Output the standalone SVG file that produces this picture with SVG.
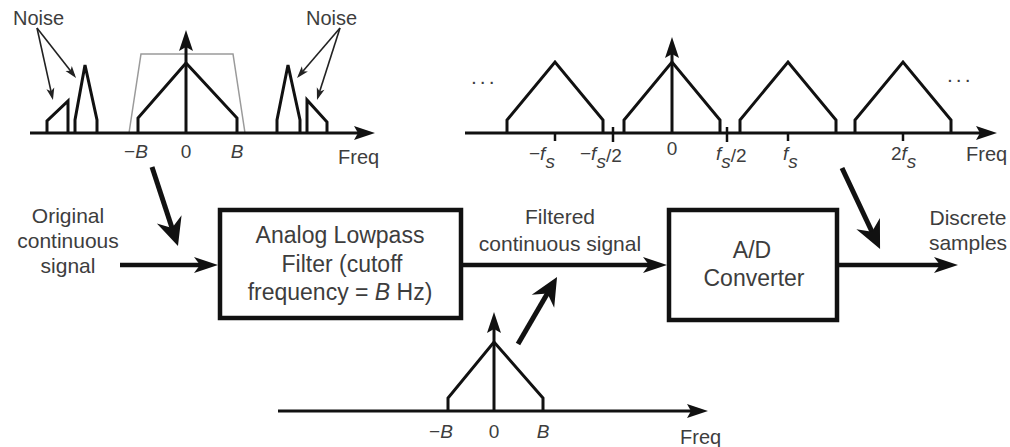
<svg xmlns="http://www.w3.org/2000/svg" width="1010" height="447" viewBox="0 0 1010 447">
<style>
text{font-family:"Liberation Sans",Arial,sans-serif;fill:#3d3d3d}
.lbl{font-size:21px;text-anchor:middle}
.box-t{font-size:23px;text-anchor:middle}
.ax{font-size:19px;text-anchor:middle}
.fl{font-size:19px}
.fq{font-size:20px}
.it{font-style:italic}
.box{fill:#fff;stroke:#111;stroke-width:4.5}
.axis{stroke:#111;stroke-width:3;fill:none}
.spec{stroke:#111;stroke-width:3;fill:none;stroke-linejoin:miter}
.tick{stroke:#111;stroke-width:2.5}
.sig{stroke:#111;stroke-width:4.5;fill:none}
.big{stroke:#111;stroke-width:5;fill:none}
.thin{stroke:#222;stroke-width:1.6;fill:none}
</style>
<defs>
<marker id="ah" markerUnits="userSpaceOnUse" markerWidth="26" markerHeight="18" refX="10" refY="8" orient="auto" overflow="visible"><path d="M0,0 L24,8 L0,16 L6,8 z" fill="#111"/></marker>
<marker id="ahd" markerUnits="userSpaceOnUse" markerWidth="30" markerHeight="28" refX="14" refY="13" orient="auto" overflow="visible"><path d="M0,0 L28,13 L0,26 L9,13 z" fill="#111"/></marker>
<marker id="ahs" markerUnits="userSpaceOnUse" markerWidth="14" markerHeight="10" refX="9" refY="4" orient="auto" overflow="visible"><path d="M0,0 L12,4 L0,8 L3,4 z" fill="#222"/></marker>
<marker id="aha" markerUnits="userSpaceOnUse" markerWidth="24" markerHeight="16" refX="8" refY="7" orient="auto" overflow="visible"><path d="M0,0 L21,7 L0,14 L4,7 z" fill="#111"/></marker>
</defs>

<!-- Input spectrum (top left) -->
<g id="spectrum-input">
<path d="M129,133 L141,54 H233 L245,133" fill="none" stroke="#9a9a9a" stroke-width="1.5"/>
<line class="axis" x1="30" y1="133" x2="362" y2="133" marker-end="url(#aha)"/>
<line class="axis" x1="186" y1="133" x2="186" y2="43" marker-end="url(#aha)"/>
<path class="spec" d="M138,133 V118 L186,63 L237,118 V133"/>
<path class="spec" d="M47,133 V121 L68,101 V133"/>
<path class="spec" d="M75,133 V120 L85,65 L97,120 V133"/>
<path class="spec" d="M277,133 V120 L288,65 L300,120 V133"/>
<path class="spec" d="M307,133 V100 L327,122 V133"/>
<text x="13" y="25" style="font-size:20px">Noise</text>
<text x="306" y="25" style="font-size:20px">Noise</text>
<line class="thin" x1="37" y1="28" x2="52.3" y2="97.1" marker-end="url(#ahs)"/>
<line class="thin" x1="37" y1="28" x2="74.2" y2="75.6" marker-end="url(#ahs)"/>
<line class="thin" x1="340" y1="28" x2="299" y2="75.7" marker-end="url(#ahs)"/>
<line class="thin" x1="340" y1="28" x2="317.9" y2="97.1" marker-end="url(#ahs)"/>
<text class="ax" x="136" y="158">−<tspan class="it">B</tspan></text>
<text class="ax" x="186" y="158">0</text>
<text class="ax it" x="237" y="158">B</text>
<text class="fq" x="338" y="164">Freq</text>
</g>

<!-- Sampled spectrum (top right) -->
<g id="spectrum-sampled">
<line class="axis" x1="465" y1="133" x2="984" y2="133" marker-end="url(#aha)"/>
<line class="axis" x1="672" y1="133" x2="672" y2="50" marker-end="url(#aha)"/>
<path class="spec" d="M507,133 V120 L555,62 L603,120 V133"/>
<path class="spec" d="M624,133 V120 L672,62 L720,120 V133"/>
<path class="spec" d="M740,133 V120 L788,62 L836,120 V133"/>
<path class="spec" d="M855,133 V120 L903,62 L951,120 V133"/>
<line class="tick" x1="555" y1="133" x2="555" y2="141"/>
<line class="tick" x1="613" y1="127" x2="613" y2="142"/>
<line class="tick" x1="727" y1="127" x2="727" y2="142"/>
<line class="tick" x1="788" y1="133" x2="788" y2="141"/>
<line class="tick" x1="903" y1="133" x2="903" y2="141"/>
<text x="471" y="84" style="font-size:21px;letter-spacing:3px">...</text>
<text x="947" y="82" style="font-size:21px;letter-spacing:3px">...</text>
<text class="fl" x="529" y="160">−<tspan class="it">f</tspan><tspan class="it" dy="8">s</tspan></text>
<text class="fl" x="580" y="160">−<tspan class="it">f</tspan><tspan class="it" dy="8">s</tspan><tspan dy="-6">/2</tspan></text>
<text class="ax" x="672" y="155">0</text>
<text class="fl" x="716" y="160"><tspan class="it">f</tspan><tspan class="it" dy="8">s</tspan><tspan dy="-6">/2</tspan></text>
<text class="fl" x="783" y="160"><tspan class="it">f</tspan><tspan class="it" dy="8">s</tspan></text>
<text class="fl" x="891" y="160">2<tspan class="it">f</tspan><tspan class="it" dy="8">s</tspan></text>
<text class="fq" x="966" y="161">Freq</text>
</g>

<!-- Filtered spectrum (bottom) -->
<g id="spectrum-filtered">
<line class="axis" x1="278" y1="411" x2="695" y2="411" marker-end="url(#aha)"/>
<line class="axis" x1="494" y1="411" x2="494" y2="325" marker-end="url(#aha)"/>
<path class="spec" d="M448,411 V398 L494,342 L543,398 V411"/>
<text class="ax" x="441" y="438">−<tspan class="it">B</tspan></text>
<text class="ax" x="494" y="438">0</text>
<text class="ax it" x="543" y="438">B</text>
<text class="fq" x="680" y="444">Freq</text>
</g>

<!-- Signal labels -->
<g id="input-label">
<text class="lbl" x="68" y="223">Original</text>
<text class="lbl" x="68" y="248">continuous</text>
<text class="lbl" x="68" y="273">signal</text>
</g>
<g id="filtered-label">
<text class="lbl" x="560" y="224">Filtered</text>
<text class="lbl" x="560" y="251">continuous signal</text>
</g>
<g id="output-label">
<text class="lbl" x="968" y="225">Discrete</text>
<text class="lbl" x="968" y="250">samples</text>
</g>

<!-- Nodes -->
<g id="filter">
<rect class="box" x="220" y="210" width="241" height="108"/>
<text class="box-t" x="340" y="243">Analog Lowpass</text>
<text class="box-t" x="342" y="272">Filter (cutoff</text>
<text class="box-t" x="340" y="300">frequency = <tspan class="it">B</tspan> Hz)</text>
</g>
<g id="adc">
<rect class="box" x="669" y="210" width="168" height="110"/>
<text class="box-t" x="752" y="258">A/D</text>
<text class="box-t" x="754" y="286">Converter</text>
</g>

<!-- Connectors -->
<g id="connectors">
<line class="sig" x1="120" y1="265" x2="204" y2="265" marker-end="url(#ah)"/>
<line class="sig" x1="461" y1="265" x2="653" y2="265" marker-end="url(#ah)"/>
<line class="sig" x1="837" y1="265" x2="944" y2="265" marker-end="url(#ah)"/>
<line class="big" x1="152" y1="167" x2="173.6" y2="232.7" marker-end="url(#ahd)"/>
<line class="big" x1="842" y1="168" x2="874.1" y2="236.3" marker-end="url(#ahd)"/>
<line class="big" x1="518" y1="344" x2="550" y2="289.1" marker-end="url(#ahd)"/>
</g>
</svg>
